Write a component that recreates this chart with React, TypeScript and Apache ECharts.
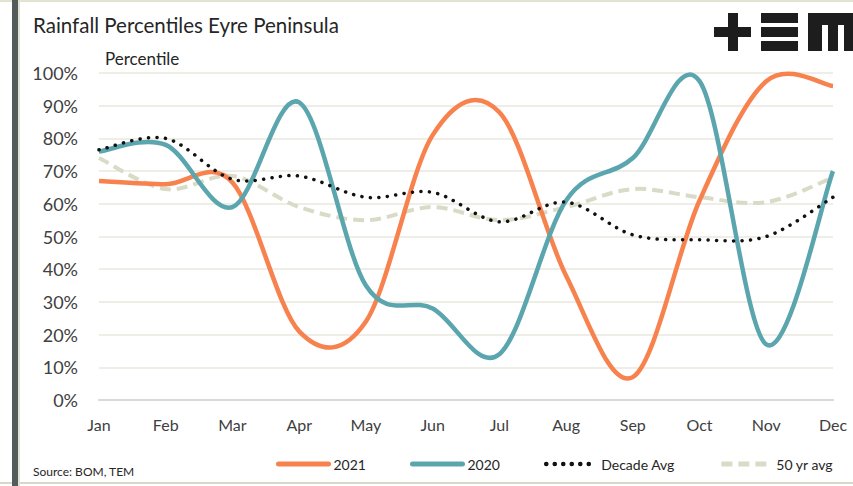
import React, { useEffect, useRef } from "react";
import * as echarts from "echarts";

const months = ["Jan", "Feb", "Mar", "Apr", "May", "Jun", "Jul", "Aug", "Sep", "Oct", "Nov", "Dec"];
const y2021 = [67, 66, 66.5, 21, 24, 81, 88, 38, 7, 61, 97.5, 96];
const y2020 = [76, 78, 59, 91, 35, 28, 14, 61, 74, 97.5, 17, 70];
const decadeAvg = [76.5, 80, 67.5, 68.5, 62, 63.5, 54.5, 60.5, 50.5, 49, 50, 62];
const fiftyYrAvg = [74, 64.5, 68.5, 59, 55, 59, 55, 59, 64.5, 62, 60.5, 68];

const FONT = "Lato, 'Liberation Sans', sans-serif";

const C2021 = "#f7824e";
const C2020 = "#5ba6ae";
const CDEC = "#111111";
const C50 = "#d9dbc6";

type LS = { color: string; width: number; dash?: number[]; cap?: string; legendWidth: number };

const styles: Record<string, LS> = {
  "2021": { color: C2021, width: 4.5, legendWidth: 5, cap: "round" },
  "2020": { color: C2020, width: 4.5, legendWidth: 5, cap: "round" },
  "Decade Avg": { color: CDEC, width: 3.5, dash: [0.1, 8.4], cap: "round", legendWidth: 4.5 },
  "50 yr avg": { color: C50, width: 4, dash: [11, 6], legendWidth: 5 },
};

// Excel-like smooth curve (Catmull-Rom converted to cubic Bezier), drawn in pixel space via api.coord
function curveSeries(name: string, values: number[], z: number) {
  const st = styles[name];
  return {
    name: name + " curve",
    type: "custom",
    coordinateSystem: "cartesian2d",
    data: values.map((v, i) => [i, v]),
    encode: { x: 0, y: 1 },
    z,
    silent: true,
    clip: false,
    renderItem: (params: any, api: any) => {
      if (params.dataIndex !== 0) return { type: "group", children: [] };
      const pts = values.map((v, i) => api.coord([i, v]));
      const n = pts.length;
      let d = `M${pts[0][0]},${pts[0][1]}`;
      for (let i = 0; i < n - 1; i++) {
        const p0 = pts[i - 1] || pts[i];
        const p1 = pts[i];
        const p2 = pts[i + 1];
        const p3 = pts[i + 2] || pts[i + 1];
        const c1x = p1[0] + (p2[0] - p0[0]) / 6;
        const c1y = p1[1] + (p2[1] - p0[1]) / 6;
        const c2x = p2[0] - (p3[0] - p1[0]) / 6;
        const c2y = p2[1] - (p3[1] - p1[1]) / 6;
        d += ` C${c1x},${c1y} ${c2x},${c2y} ${p2[0]},${p2[1]}`;
      }
      return {
        type: "path",
        shape: { pathData: d },
        style: {
          fill: "none",
          stroke: st.color,
          lineWidth: st.width,
          lineDash: st.dash || null,
          lineCap: st.dash ? st.cap || "butt" : "butt",
          lineJoin: "round",
        },
      };
    },
  };
}

function legendProxy(name: string) {
  const st = styles[name];
  return {
    name,
    type: "line",
    data: [],
    symbol: "none",
    color: st.color,
    lineStyle: { color: st.color, width: st.legendWidth, type: st.dash || "solid", cap: st.cap || "butt" },
  };
}

function legendItem(name: string) {
  const st = styles[name];
  return {
    name,
    lineStyle: { color: st.color, width: st.legendWidth, type: st.dash || "solid", cap: st.cap || "butt" },
  };
}

export default function App() {
  const ref = useRef<HTMLDivElement>(null);
  useEffect(() => {
    const chart = echarts.init(ref.current!, null, { renderer: "svg" });
    const logo = "#1d1d1d";
    chart.setOption({
      animation: false,
      backgroundColor: "#ffffff",
      textStyle: { fontFamily: FONT },
      title: {
        text: "Rainfall Percentiles Eyre Peninsula",
        left: 28,
        top: 9,
        textStyle: { fontFamily: FONT, fontSize: 20.5, fontWeight: "normal", color: "#262626" },
      },
      legend: {
        left: 276,
        top: 457,
        itemWidth: 50,
        itemHeight: 14,
        itemGap: 44,
        padding: 0,
        itemStyle: { opacity: 0 },
        textStyle: { fontFamily: FONT, fontSize: 14, color: "#262626" },
        data: ["2021", "2020", "Decade Avg", "50 yr avg"].map(legendItem),
      },
      grid: { left: 99, right: 20, top: 73, bottom: 86, containLabel: false },
      xAxis: {
        type: "category",
        data: months,
        boundaryGap: false,
        axisLine: { lineStyle: { color: "#d9d9d9", width: 2 } },
        axisTick: { show: false },
        axisLabel: { fontFamily: FONT, fontSize: 16, color: "#404040", margin: 16 },
        splitLine: { show: false },
      },
      yAxis: {
        type: "value",
        min: 0,
        max: 100,
        interval: 10,
        axisLine: { show: false },
        axisTick: { show: false },
        axisLabel: { fontFamily: FONT, fontSize: 18, color: "#404040", margin: 21, formatter: "{value}%" },
        splitLine: { lineStyle: { color: "#eeede6", width: 2 } },
      },
      graphic: [
        { type: "rect", shape: { x: 0, y: 0, width: 853, height: 2 }, style: { fill: "#e3e3d4" } },
        { type: "rect", shape: { x: 0, y: 482, width: 853, height: 2 }, style: { fill: "#d8d8c8" } },
        { type: "rect", shape: { x: 12, y: 0, width: 6, height: 486 }, style: { fill: "#545b5b" } },
        { type: "rect", shape: { x: 18, y: 0, width: 2, height: 486 }, style: { fill: "#e2e2d2" } },
        { type: "text", x: 105, y: 58, style: { text: "Percentile", fontFamily: FONT, fontSize: 17, fill: "#262626", verticalAlign: "middle" } },
        { type: "text", x: 33, y: 471, style: { text: "Source: BOM, TEM", fontFamily: FONT, fontSize: 12, fill: "#262626", verticalAlign: "middle" } },
        // logo "+"
        { type: "rect", shape: { x: 714, y: 27, width: 37, height: 10 }, style: { fill: logo } },
        { type: "rect", shape: { x: 728, y: 13, width: 10, height: 38 }, style: { fill: logo } },
        // logo "≡"
        { type: "rect", shape: { x: 761, y: 13, width: 37, height: 10 }, style: { fill: logo } },
        { type: "rect", shape: { x: 761, y: 27, width: 37, height: 10 }, style: { fill: logo } },
        { type: "rect", shape: { x: 761, y: 41, width: 37, height: 10 }, style: { fill: logo } },
        // logo "m"
        { type: "rect", shape: { x: 808, y: 13, width: 45, height: 12 }, style: { fill: logo } },
        { type: "rect", shape: { x: 808, y: 13, width: 14, height: 38 }, style: { fill: logo } },
        { type: "rect", shape: { x: 828, y: 13, width: 10, height: 38 }, style: { fill: logo } },
        { type: "rect", shape: { x: 844, y: 13, width: 9, height: 38 }, style: { fill: logo } },
      ],
      series: [
        legendProxy("2021"),
        legendProxy("2020"),
        legendProxy("Decade Avg"),
        legendProxy("50 yr avg"),
        curveSeries("50 yr avg", fiftyYrAvg, 2),
        curveSeries("2021", y2021, 3),
        curveSeries("2020", y2020, 4),
        curveSeries("Decade Avg", decadeAvg, 5),
      ],
    });
    return () => chart.dispose();
  }, []);
  return <div ref={ref} style={{ position: "fixed", left: 0, top: 0, width: 853, height: 486 }} />;
}
